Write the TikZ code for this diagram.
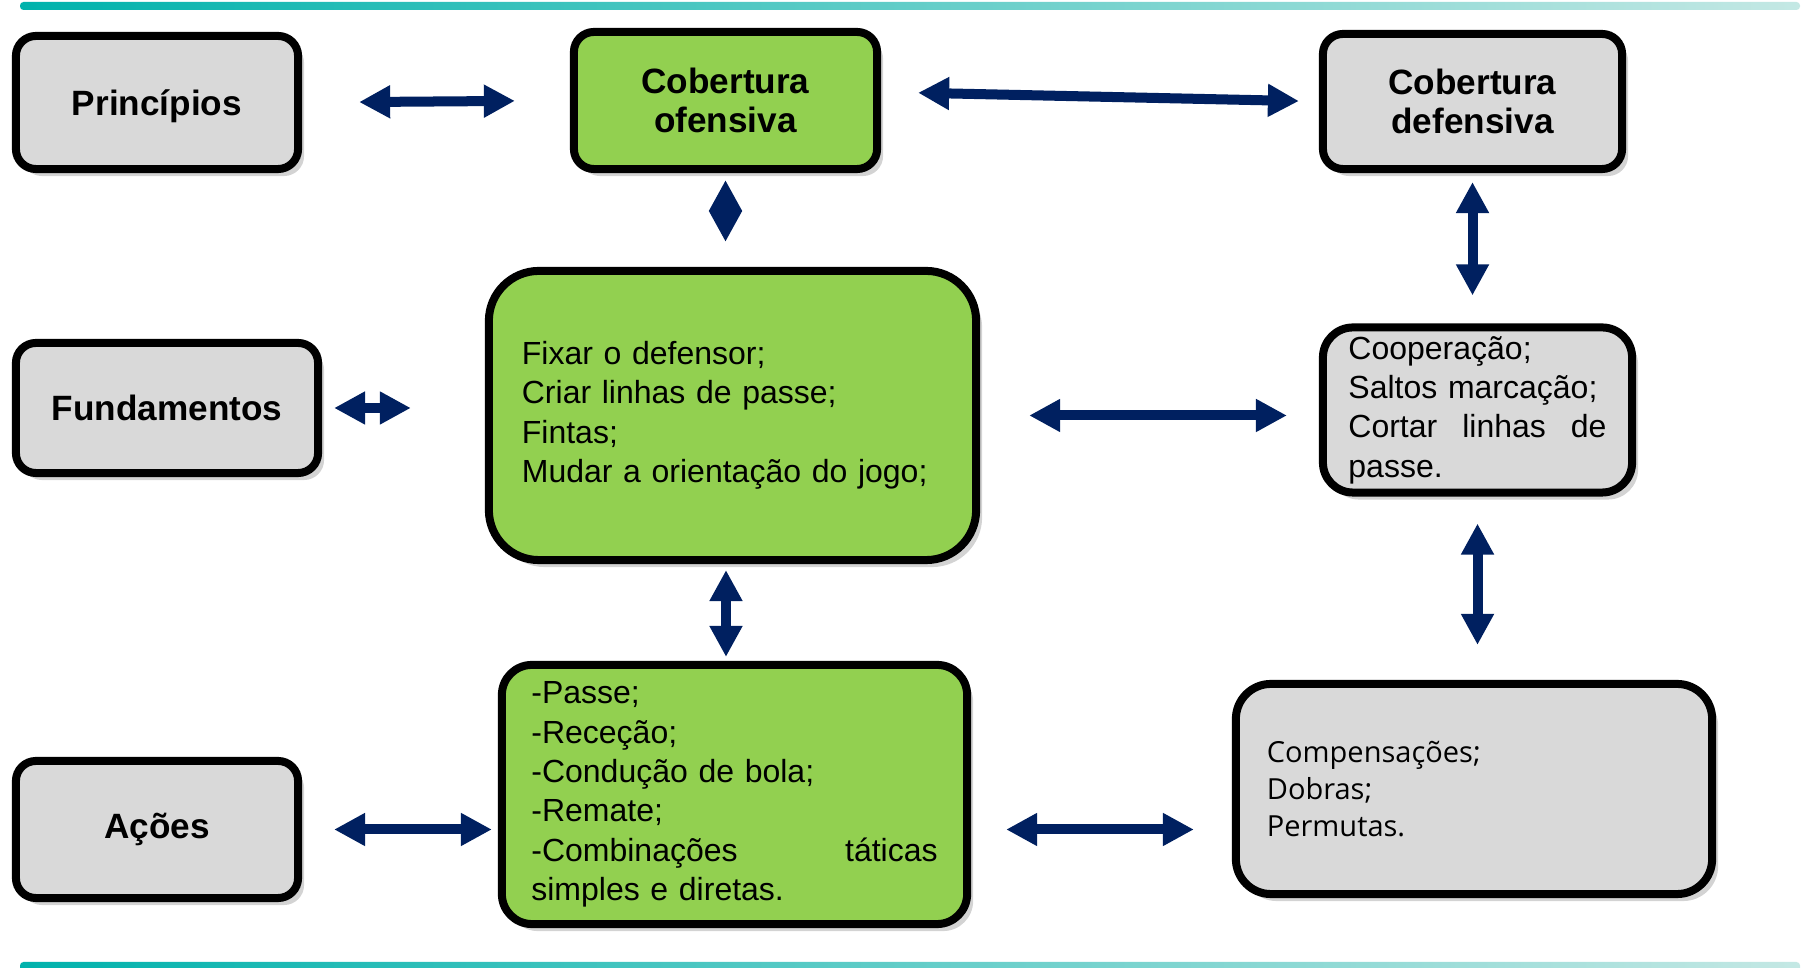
\documentclass[tikz,border=0pt]{standalone}
\usepackage{fontspec}
\setmainfont{Liberation Sans}
\newfontfamily\segoefont{Open Sans}
\usepackage{tikz}
\usetikzlibrary{arrows.meta,shapes,positioning,shadows}
\usepackage{xcolor}
\definecolor{cfgreen}{RGB}{146,208,80}
\definecolor{cfgrey}{RGB}{217,217,217}
\definecolor{cfnavy}{RGB}{0,32,96}
\definecolor{cfteal}{RGB}{0,178,172}
\definecolor{cflightteal}{RGB}{196,232,228}
\tikzstyle{arrow} = [line width=0.1cm,<->,>={Triangle[length=0.31cm,width=0.31cm]},color=cfnavy]
\tikzstyle{box} = [rectangle, rounded corners=0.2cm, draw=black, line width=0.08cm, inner sep=0pt, drop shadow={shadow xshift=0.06cm,shadow yshift=-0.07cm,opacity=0.35}]
\tikzstyle{title} = [box, fill=cfgrey, align=center, font=\fontsize{10}{11.1}\selectfont\bfseries]
\tikzstyle{listbox} = [box, align=left, font=\fontsize{9.1}{11.2}\selectfont]

\begin{document}
\begin{tikzpicture}[x=0.01cm, y=-0.01cm]
\useasboundingbox (0,0) rectangle (1806,968);
% bands
\shade[left color=cfteal, right color=cflightteal, rounded corners=0.035cm] (20,2) rectangle (1800,10);
\shade[left color=cfteal, right color=cflightteal, rounded corners=0.035cm] (20,962) rectangle (1800,972);

% boxes
\node (princ) [title, text depth=0pt, minimum width=2.82cm, minimum height=1.33cm] at (157,102.5) {Princípios};
\node (ofens) [title, fill=cfgreen, minimum width=3.03cm, minimum height=1.37cm] at (725.5,100.5) {Cobertura\\ofensiva};
\node (def) [title, minimum width=2.99cm, minimum height=1.35cm] at (1472.5,101.5) {Cobertura\\defensiva};
\node (fund) [title, minimum width=3.02cm, minimum height=1.30cm] at (167,408) {Fundamentos};
\node (central) [listbox, fill=cfgreen, rounded corners=0.5cm, minimum width=4.87cm, minimum height=2.89cm, text width=4.21cm] at (732.5,415.5) {Fixar o defensor;\\Criar linhas de passe;\\Fintas;\\Mudar a orientação do jogo;};
\node (coop) [listbox, fill=cfgrey, rounded corners=0.3cm, minimum width=3.09cm, minimum height=1.65cm, text width=2.58cm] at (1477.5,410) {Cooperação;\\Saltos marcação;\\Cortar\hfill linhas\hfill de\\passe.};
\node (acoes) [title, minimum width=2.82cm, minimum height=1.37cm] at (157,829.5) {Ações};
\node (acts) [listbox, fill=cfgreen, rounded corners=0.3cm, minimum width=4.65cm, minimum height=2.59cm, text width=4.06cm] at (734.5,794.5) {-Passe;\\-Receção;\\-Condução de bola;\\-Remate;\\-Combinações\hfill táticas\\simples e diretas.};
\node (comp) [listbox, fill=cfgrey, rounded corners=0.35cm, minimum width=4.76cm, minimum height=2.10cm, text width=4.14cm, font=\segoefont\fontsize{8.25}{10.6}\selectfont] at (1474,789) {Compensações;\\Dobras;\\Permutas.};

% arrows
\draw[arrow, shorten <=0.57cm, shorten >=0.55cm] (princ.east) -- (ofens.west);
\draw[arrow, shorten <=0.37cm, shorten >=0.20cm] ([yshift=0.085cm]ofens.east) -- (def.west);
\draw[arrow, shorten <=0.07cm, shorten >=0.25cm] (ofens.south) -- (ofens.south |- central.north);
\draw[arrow, shorten <=0.09cm, shorten >=0.28cm] (def.south) -- (def.south |- coop.north);
\draw[arrow, shorten <=0.12cm, shorten >=0.74cm] (fund.east) -- (fund.east -| central.west);
\draw[arrow, shorten <=0.49cm, shorten >=0.32cm] (central.east) -- (central.east -| coop.west);
\draw[arrow, shorten <=0.06cm, shorten >=0.04cm] ([xshift=-0.065cm]central.south) -- ([xshift=-0.065cm]central.south |- acts.north);
\draw[arrow, shorten <=0.27cm, shorten >=0.35cm] (coop.south) -- (coop.south |- comp.north);
\draw[arrow, shorten <=0.32cm, shorten >=0.06cm] (acoes.east) -- (acoes.east -| acts.west);
\draw[arrow, shorten <=0.35cm, shorten >=0.38cm] (acoes.east -| acts.east) -- (acoes.east -| comp.west);
\end{tikzpicture}
\end{document}
